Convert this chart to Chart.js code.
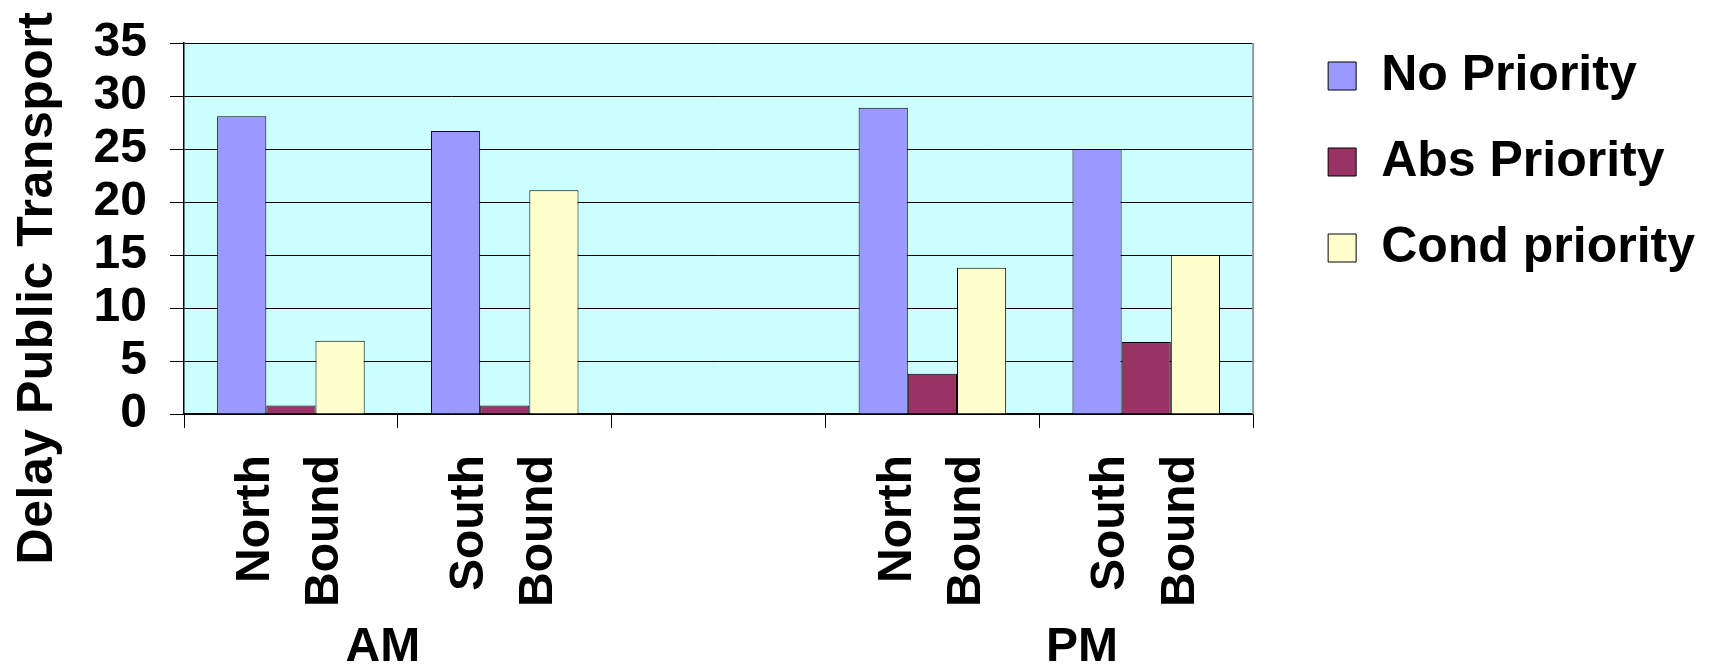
<!DOCTYPE html>
<html>
<head>
<meta charset="utf-8">
<script src="https://cdn.jsdelivr.net/npm/chart.js@4.4.1/dist/chart.umd.min.js"></script>
<style>
  html, body { margin: 0; padding: 0; background: #fff; }
  #wrap { width: 1721px; height: 671px; position: relative; }
</style>
</head>
<body>
<div id="wrap"><canvas id="chart"></canvas></div>
<script>
// categories (empty slot separates AM from PM)
const categories = [['North', 'Bound'], ['South', 'Bound'], '', ['North', 'Bound'], ['South', 'Bound']];
const groupLabels = ['AM', 'PM'];
const groupCenters = [0.43, 3.7];   // position on the category index scale

const noPriority   = [28.1, 26.7, null, 28.9, 25.0];
const absPriority  = [0.8, 0.8, null, 3.8, 6.8];
const condPriority = [6.9, 21.1, null, 13.8, 15.0];

const yTicks = [0, 5, 10, 15, 20, 25, 30, 35];
const yTitle = 'Delay Public Transport';

const FONT = '"Liberation Sans", Arial, sans-serif';

// cyan plot background, grey right frame, y-axis title
const plotBg = {
  id: 'plotBg',
  beforeDraw(chart) {
    const a = chart.chartArea, ctx = chart.ctx;
    ctx.save();
    ctx.fillStyle = '#CCFFFF';
    ctx.fillRect(a.left, a.top, a.right - a.left, a.bottom - a.top);
    ctx.restore();
  },
  afterDraw(chart) {
    const a = chart.chartArea, ctx = chart.ctx;
    ctx.save();
    ctx.strokeStyle = '#999';
    ctx.lineWidth = 2;
    ctx.beginPath();
    ctx.moveTo(a.right, a.top);
    ctx.lineTo(a.right, a.bottom);
    ctx.stroke();

    ctx.translate(52, 288);
    ctx.rotate(-Math.PI / 2);
    ctx.font = 'bold 50px ' + FONT;
    ctx.letterSpacing = '0.5px';
    ctx.fillStyle = '#000';
    ctx.textAlign = 'center';
    ctx.textBaseline = 'alphabetic';
    ctx.fillText(yTitle, 0, 0);
    ctx.restore();
  }
};

const ctx = document.getElementById('chart').getContext('2d');
const chart = new Chart(ctx, {
  type: 'bar',
  data: {
    labels: categories,
    datasets: [
      { label: 'No Priority', data: noPriority, backgroundColor: '#9999FF', borderColor: '#000', borderWidth: 1 },
      { label: 'Abs Priority', data: absPriority, backgroundColor: '#993366', borderColor: '#000', borderWidth: 1 },
      { label: 'Cond priority', data: condPriority, backgroundColor: '#FFFFCC', borderColor: '#000', borderWidth: 1 }
    ]
  },
  options: {
    responsive: true,
    maintainAspectRatio: false,
    animation: false,
    categoryPercentage: 0.69,
    barPercentage: 1.0,
    layout: { padding: { left: 0, top: 15, right: 16, bottom: 0 } },
    plugins: {
      tooltip: { enabled: false },
      legend: {
        position: 'right',
        align: 'start',
        labels: {
          boxWidth: 28,
          boxHeight: 28,
          padding: 36,
          color: '#000',
          font: { family: FONT, size: 50, weight: 'bold' }
        }
      }
    },
    scales: {
      x: {
        weight: 0,
        afterFit: s => { s.height = 193; },
        grid: { drawOnChartArea: false, color: '#000', tickLength: 14, offset: true },
        border: { color: '#000', width: 1.5 },
        ticks: {
          autoSkip: false,
          minRotation: 90,
          maxRotation: 90,
          padding: 27,
          labelOffset: -35,
          color: '#000',
          font: { family: FONT, size: 48, weight: 'bold', lineHeight: 1.44 }
        }
      },
      x2: {
        type: 'linear',
        position: 'bottom',
        weight: 1,
        offset: false,
        min: -0.5,
        max: 4.5,
        afterFit: s => { s.height = 64; },
        grid: { display: false, drawTicks: false, offset: false },
        border: { display: false },
        afterBuildTicks: s => {
          s.ticks = groupCenters.map(v => ({ value: v }));
          s.min = -0.5;
          s.max = 4.5;
        },
        ticks: {
          autoSkip: false,
          maxRotation: 0,
          padding: 17,
          color: '#000',
          font: { family: FONT, size: 48, weight: 'bold', lineHeight: 1.0 },
          callback: (v, i) => groupLabels[i]
        }
      },
      y: {
        min: 0,
        max: 35,
        afterBuildTicks: s => { s.ticks = yTicks.map(v => ({ value: v })); },
        afterFit: s => { s.width = 184; s.paddingTop = 43; },
        grid: { color: '#000', lineWidth: 1, tickLength: 14 },
        border: { color: '#000', width: 1.5 },
        ticks: {
          autoSkip: false,
          padding: 23,
          color: '#000',
          font: { family: FONT, size: 48, weight: 'bold' }
        }
      },
      yR: {
        type: 'linear',
        position: 'right',
        display: false,
        afterFit: s => { s.width = 39; }
      }
    }
  },
  plugins: [plotBg]
});
</script>
</body>
</html>
